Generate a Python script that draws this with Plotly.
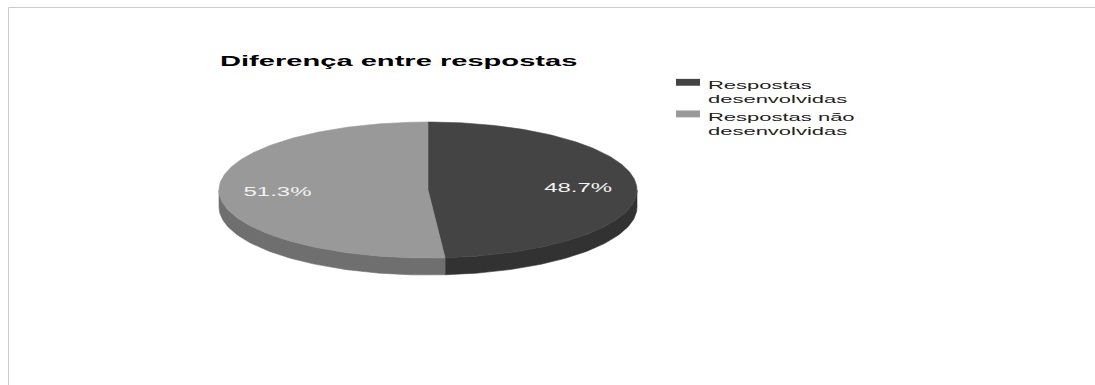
import numpy as np
import plotly.graph_objects as go

# ---- data ----
chart_title = "Diferença entre respostas"
labels = ["Respostas<br>desenvolvidas", "Respostas não<br>desenvolvidas"]
values = [48.7, 51.3]
top_colors = ["#444444", "#999999"]
side_colors = ["#323232", "#6f6f6f"]

# ---- pseudo-3D pie geometry (pixel space of the page) ----
W, H = 1095, 385
CX, CY, RX, RY, DEPTH = 428, 190, 209, 68, 17
FONT = "Liberation Sans, Arial, sans-serif"


def ell(t, dy=0.0):
    t = np.asarray(t)
    return CX + RX * np.sin(t), CY - RY * np.cos(t) + dy


total = float(sum(values))
fracs = [v / total for v in values]
starts = np.concatenate([[0.0], np.cumsum(fracs)[:-1]]) * 2 * np.pi
ends = starts + np.array(fracs) * 2 * np.pi

fig = go.Figure()

# side walls (visible front half: pi/2 .. 3pi/2)
for s, e, col in zip(starts, ends, side_colors):
    lo, hi = max(s, np.pi / 2), min(e, 3 * np.pi / 2)
    if hi <= lo:
        continue
    t = np.linspace(lo, hi, 80)
    xt, yt = ell(t)
    xb, yb = ell(t[::-1], DEPTH)
    fig.add_trace(go.Scatter(
        x=np.concatenate([xt, xb, xt[:1]]), y=np.concatenate([yt, yb, yt[:1]]),
        mode="lines", fill="toself", fillcolor=col,
        line=dict(color=col, width=0.6), hoverinfo="skip", showlegend=False))

# top faces
for s, e, col, lab, v in zip(starts, ends, top_colors, labels, values):
    t = np.linspace(s, e, 200)
    xt, yt = ell(t)
    fig.add_trace(go.Scatter(
        x=np.concatenate([[CX], xt, [CX]]), y=np.concatenate([[CY], yt, [CY]]),
        mode="lines", fill="toself", fillcolor=col,
        line=dict(color=col, width=0.6), name=lab, showlegend=True,
        hoverinfo="name"))

# percentage labels
mids = (starts + ends) / 2
lx = CX + 0.72 * RX * np.sin(mids)
ly = CY - 0.72 * RY * np.cos(mids) + 1
fig.add_trace(go.Scatter(
    x=lx, y=ly, mode="text",
    text=[f"{v / total * 100:.1f}%" for v in values],
    textposition="middle center",
    textfont=dict(family=FONT, size=12, color="#f2f2f2"),
    hoverinfo="skip", showlegend=False))

fig.update_layout(
    width=W, height=H,
    margin=dict(l=0, r=0, t=0, b=0),
    paper_bgcolor="white", plot_bgcolor="white",
    xaxis=dict(range=[0, W], visible=False, fixedrange=True),
    yaxis=dict(range=[H, 0], visible=False, fixedrange=True),
    title=dict(text=chart_title, x=220 / W, xanchor="left",
               y=1 - 61 / H, yanchor="middle", yref="container",
               font=dict(family=FONT, size=14, color="#000000", weight="bold")),
    legend=dict(x=668 / W, y=1 - 71 / H, xanchor="left", yanchor="top",
                valign="top", font=dict(family=FONT, size=11, color="#222222"),
                bgcolor="rgba(0,0,0,0)", itemclick=False, itemdoubleclick=False),
    shapes=[
        dict(type="line", xref="paper", yref="paper", x0=8.5 / W, x1=1, y0=1 - 7.5 / H, y1=1 - 7.5 / H,
             line=dict(color="#cccccc", width=1)),
        dict(type="line", xref="paper", yref="paper", x0=8.5 / W, x1=8.5 / W, y0=0, y1=1 - 7.5 / H,
             line=dict(color="#cccccc", width=1)),
    ],
)

post = """
var gd = document.getElementById('{plot_id}');
function stretchSel(sel, k){
  gd.querySelectorAll(sel).forEach(function(t){
    if (t.getAttribute('data-stretched')) return;
    var bb = t.getBBox();
    var a = t.getAttribute('text-anchor') || 'start';
    var x0 = bb.x;
    if (a === 'middle') x0 = bb.x + bb.width / 2;
    else if (a === 'end') x0 = bb.x + bb.width;
    var tr = t.getAttribute('transform') || '';
    t.setAttribute('transform', tr + ' translate(' + x0 + ',0) scale(' + k + ',1) translate(' + (-x0) + ',0)');
    t.setAttribute('data-stretched', '1');
  });
}
gd.querySelectorAll('.legend .scrollbox').forEach(function(e){ e.removeAttribute('clip-path'); });
stretchSel('.gtitle', 2.08);
stretchSel('.legendtext', 2.0);
stretchSel('.textpoint text', 2.0);
gd.querySelectorAll('.legend .legendlines path').forEach(function(p){ p.style.display = 'none'; });
gd.querySelectorAll('.legend .legendfill path').forEach(function(p){
  var tr = p.getAttribute('transform') || '';
  p.setAttribute('transform', tr + ' translate(20,-3.5) scale(0.8,1.15) translate(-20,0)');
});
"""

fig.write_html("out.html", post_script=post, config={"displayModeBar": False})
